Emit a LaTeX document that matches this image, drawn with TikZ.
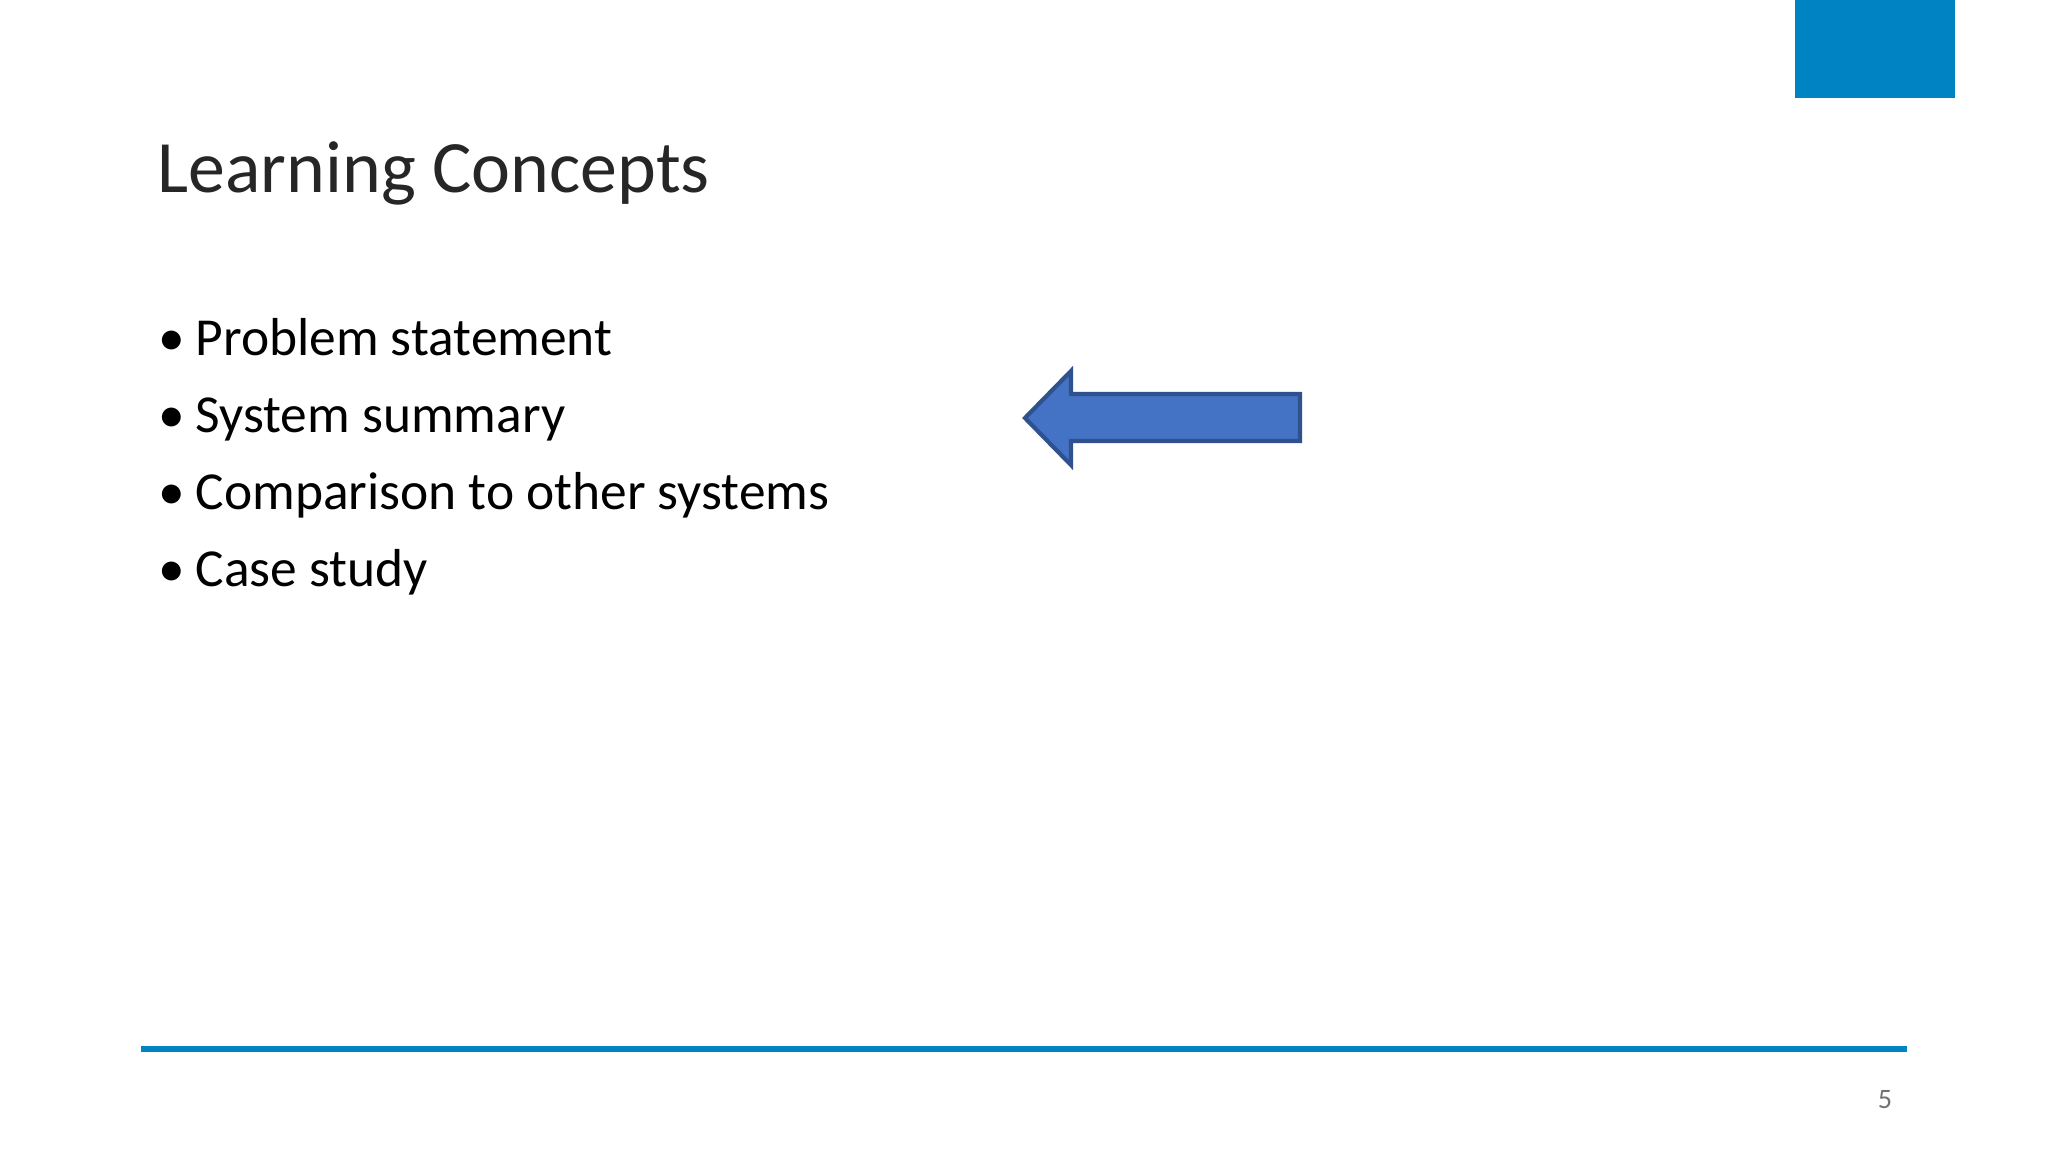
\documentclass[tikz,border=0pt]{standalone}
\usepackage{fontspec}
\setmainfont{Carlito}
\definecolor{accent}{HTML}{0083C3}
\definecolor{arrowfill}{HTML}{4472C4}
\definecolor{arrowline}{HTML}{2F528F}
\begin{document}
\begin{tikzpicture}[x=0.01cm,y=-0.01cm,
  bullet/.style={anchor=base west,font=\fontsize{15.2pt}{18pt}\selectfont,inner sep=0pt}]
\useasboundingbox (0,0) rectangle (2048,1152);
\fill[white] (0,0) rectangle (2048,1152);
\fill[accent] (1795,0) rectangle (1955,98);
\node[anchor=base west,inner sep=0pt,font=\fontsize{21pt}{24pt}\selectfont,text=black!85] (title) at (157,193) {Learning Concepts};
\foreach \t [count=\i] in {Problem statement,System summary,Comparison to other systems,Case study}{
  \node[bullet] (b\i) at (158,{356+77*(\i-1)}) {•};
  \node[bullet] (t\i) at (195,{356+77*(\i-1)}) {\t};
}
\draw[fill=arrowfill,draw=arrowline,line width=1.2pt]
  (1025,418) -- (1071,371) -- (1071,394) -- (1300,394) -- (1300,441) -- (1071,441) -- (1071,465) -- cycle;
\draw[accent,line width=6.5*0.01cm*28.45pt/1cm] (141,1049) -- (1907,1049);
\node[text=black!55,font=\fontsize{8pt}{10pt}\selectfont] (page) at (1885,1100) {5};
\end{tikzpicture}
\end{document}
